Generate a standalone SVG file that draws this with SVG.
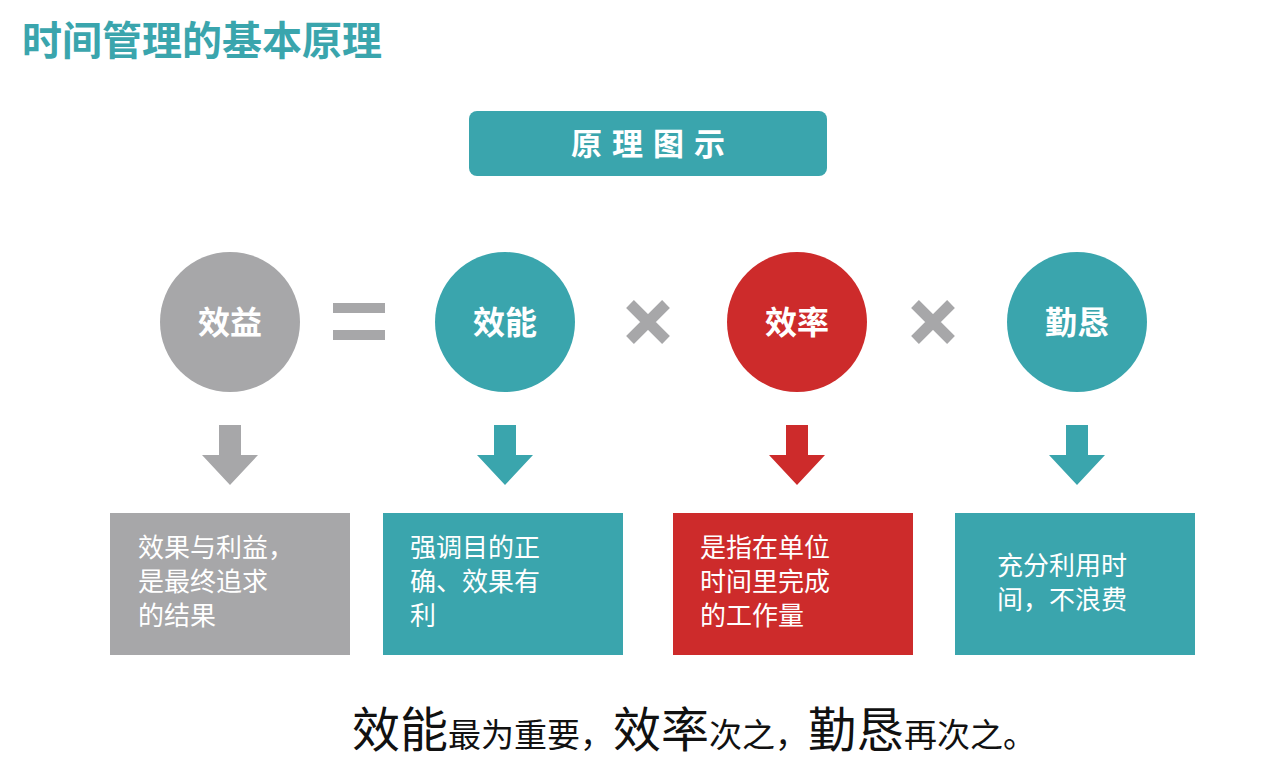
<svg xmlns="http://www.w3.org/2000/svg" width="1280" height="770" viewBox="0 0 1280 770">
<style>
text{font-family:"Noto Sans CJK SC","Noto Sans",sans-serif}
.t{fill:#3aa5ad}.g{fill:#a7a7a9}.r{fill:#cd2b2b}
.ct{fill:#fff;font-size:32px;font-weight:bold;text-anchor:middle}
.bt{fill:#fff;font-size:26px}
</style>
<defs>
<path id="arr" d="M-11,0 H11 V30 H28 L0,60 L-28,30 H-11 Z"/>
</defs>
<rect width="1280" height="770" fill="#fff"/>
<text x="22" y="55" font-size="40" font-weight="bold" class="t">时间管理的基本原理</text>
<g id="banner"><rect x="469" y="111" width="358" height="65" rx="8" class="t"/>
<text x="653" y="155" font-size="31" font-weight="bold" fill="#fff" text-anchor="middle" letter-spacing="10">原理图示</text></g>
<g id="n1"><circle cx="230" cy="322" r="70" class="g"/><text x="230" y="334" class="ct">效益</text></g>
<g id="n2"><circle cx="505" cy="322" r="70" class="t"/><text x="505" y="334" class="ct">效能</text></g>
<g id="n3"><circle cx="797" cy="322" r="70" class="r"/><text x="797" y="334" class="ct">效率</text></g>
<g id="n4"><circle cx="1077" cy="322" r="70" class="t"/><text x="1077" y="334" class="ct">勤恳</text></g>
<g id="ops" fill="#a7a7a9" stroke="#a7a7a9">
<rect x="333" y="303" width="52" height="10" stroke="none"/><rect x="333" y="330" width="52" height="10" stroke="none"/>
<path d="M630,304 L666,340 M666,304 L630,340 M915,304 L951,340 M951,304 L915,340" stroke-width="11"/>
</g>
<g id="connectors">
<use href="#arr" x="230" y="425" class="g"/>
<use href="#arr" x="505" y="425" class="t"/>
<use href="#arr" x="797" y="425" class="r"/>
<use href="#arr" x="1077" y="425" class="t"/>
</g>
<g id="b1"><rect x="110" y="513" width="240" height="142" class="g"/>
<text class="bt"><tspan x="138" y="557">效果与利益，</tspan><tspan x="138" y="591">是最终追求</tspan><tspan x="138" y="625">的结果</tspan></text></g>
<g id="b2"><rect x="383" y="513" width="240" height="142" class="t"/>
<text class="bt"><tspan x="410" y="557">强调目的正</tspan><tspan x="410" y="591">确、效果有</tspan><tspan x="410" y="625">利</tspan></text></g>
<g id="b3"><rect x="673" y="513" width="240" height="142" class="r"/>
<text class="bt"><tspan x="700" y="557">是指在单位</tspan><tspan x="700" y="591">时间里完成</tspan><tspan x="700" y="625">的工作量</tspan></text></g>
<g id="b4"><rect x="955" y="513" width="240" height="142" class="t"/>
<text class="bt"><tspan x="997" y="575">充分利用时</tspan><tspan x="997" y="609">间，不浪费</tspan></text></g>
<text x="352" y="747" fill="#111" font-size="33"><tspan font-size="48">效能</tspan>最为重要，<tspan font-size="48">效率</tspan>次之，<tspan font-size="48">勤恳</tspan>再次之。</text>
</svg>
